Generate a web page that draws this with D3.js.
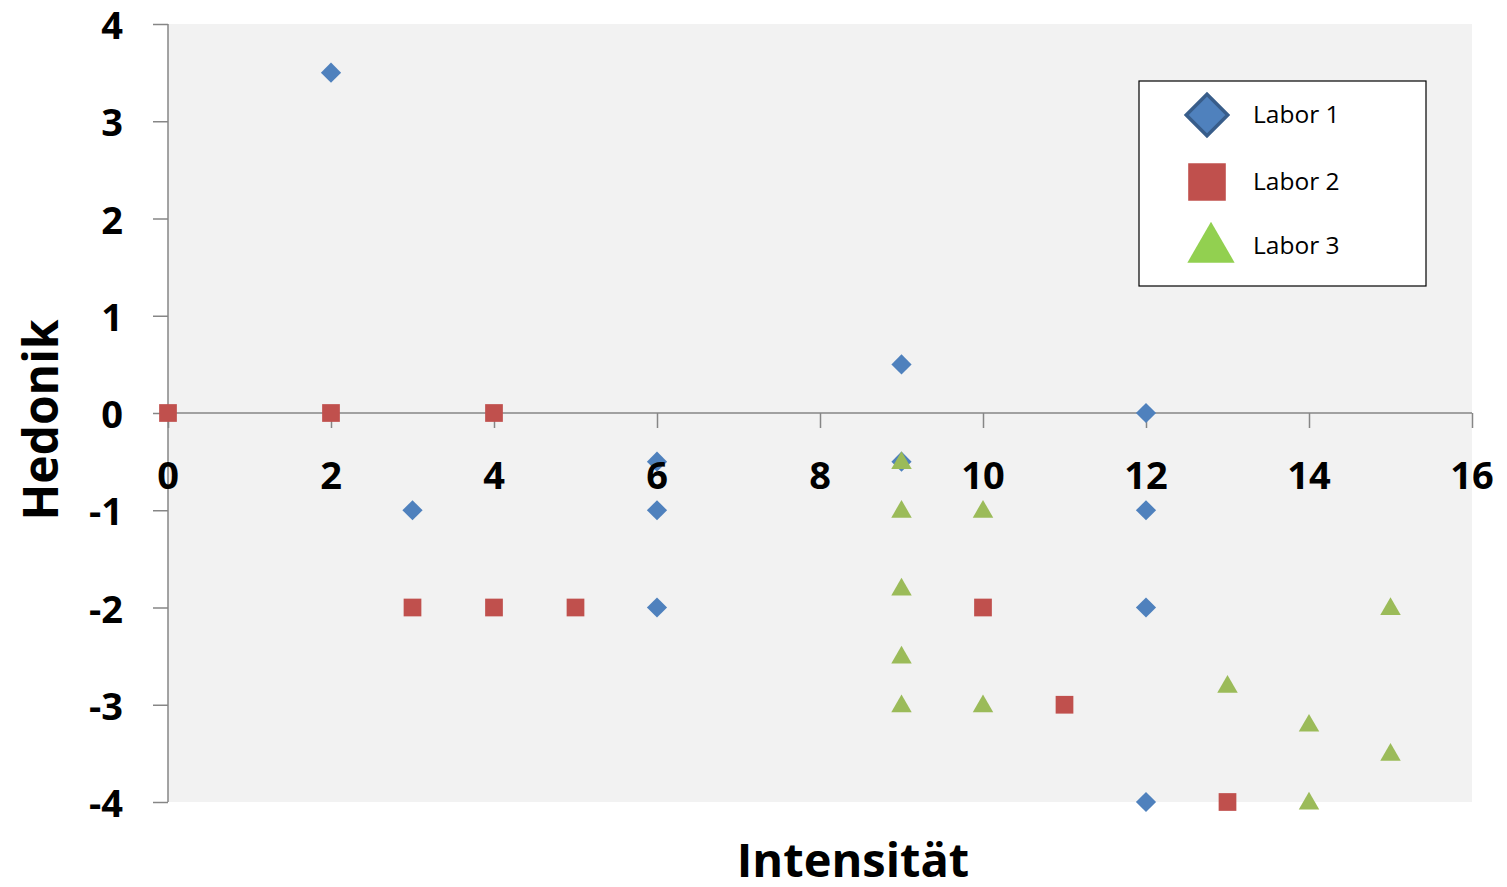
<!DOCTYPE html>
<html><head><meta charset="utf-8">
<script src="https://cdn.jsdelivr.net/npm/d3@7"></script>
<style>html,body{margin:0;padding:0;background:#fff;}</style>
</head><body>
<svg id="c" width="1507" height="887"></svg>
<script>
const seriesNames = ["Labor 1", "Labor 2", "Labor 3"];
const labor1X = [2, 3, 6, 6, 6, 9, 9, 12, 12, 12, 12];
const labor1Y = [3.5, -1, -0.5, -1, -2, 0.5, -0.5, 0, -1, -2, -4];
const labor2X = [0, 2, 4, 3, 4, 5, 10, 11, 13];
const labor2Y = [0, 0, 0, -2, -2, -2, -2, -3, -4];
const labor3X = [9, 9, 10, 9, 9, 9, 10, 13, 14, 14, 15, 15];
const labor3Y = [-0.5, -1, -1, -1.8, -2.5, -3, -3, -2.8, -3.2, -4, -2, -3.5];
const xTicks = [0, 2, 4, 6, 8, 10, 12, 14, 16];
const yTicks = [4, 3, 2, 1, 0, -1, -2, -3, -4];
const xTitle = "Intensität";
const yTitle = "Hedonik";

const svg = d3.select("#c");
const x = d3.scaleLinear().domain([0, 16]).range([168, 1472]);
const y = d3.scaleLinear().domain([-4, 4]).range([802, 24]);
const FONT = "'Open Sans', Lato, sans-serif";

// plot background
svg.append("rect").attr("x", x(0)).attr("y", y(4))
  .attr("width", x(16) - x(0)).attr("height", y(-4) - y(4)).attr("fill", "#f2f2f2");

// y axis
const yAxis = d3.axisLeft(y).tickValues(yTicks).tickSize(15).tickFormat("");
const gy = svg.append("g").attr("transform", `translate(${x(0)},0)`).call(yAxis);
gy.select(".domain").attr("stroke", "#868686").attr("stroke-width", 1.5).attr("d", `M-0,${y(4)}H0V${y(-4)}H-0`);
gy.selectAll(".tick line").attr("stroke", "#868686").attr("stroke-width", 1.5);

// x axis at y=0
const xAxis = d3.axisBottom(x).tickValues(xTicks).tickSize(15).tickFormat("");
const gx = svg.append("g").attr("transform", `translate(0,${y(0)})`).call(xAxis);
gx.select(".domain").attr("stroke", "#868686").attr("stroke-width", 1.5).attr("d", `M${x(0)},0H${x(16)}`);
gx.selectAll(".tick line").attr("stroke", "#868686").attr("stroke-width", 1.5);

const sym = {
  "Labor 1": d3.symbolDiamond2,
  "Labor 2": d3.symbolSquare2,
  "Labor 3": d3.symbolTriangle2
};
const colors = ["#4f81bd", "#c0504d", "#9bbb59"];
const data = [
  labor1X.map((v, i) => [v, labor1Y[i]]),
  labor2X.map((v, i) => [v, labor2Y[i]]),
  labor3X.map((v, i) => [v, labor3Y[i]])
];
const sizes = [260, 400, 300];
data.forEach((pts, si) => {
  svg.append("g").selectAll("path").data(pts).join("path")
    .attr("transform", d => `translate(${x(d[0])},${y(d[1]) + (si === 2 ? 1.5 : 0)})`)
    .attr("d", d3.symbol(sym[seriesNames[si]], sizes[si]))
    .attr("fill", colors[si]);
});

// tick labels
svg.append("g").selectAll("text").data(xTicks).join("text")
  .attr("x", d => x(d)).attr("y", 489)
  .attr("text-anchor", "middle").attr("font-family", FONT).attr("font-weight", "bold")
  .attr("font-size", 38).attr("fill", "#000").text(d => d);
svg.append("g").selectAll("text").data(yTicks).join("text")
  .attr("x", 123).attr("y", d => y(d) + 15)
  .attr("text-anchor", "end").attr("font-family", FONT).attr("font-weight", "bold")
  .attr("font-size", 38).attr("fill", "#000").text(d => d);

// axis titles
svg.append("text").attr("x", 853).attr("y", 877).attr("text-anchor", "middle")
  .attr("font-family", FONT).attr("font-weight", "bold").attr("font-size", 47).text(xTitle);
svg.append("text").attr("transform", "translate(58,420) rotate(-90)").attr("text-anchor", "middle")
  .attr("font-family", FONT).attr("font-weight", "bold").attr("font-size", 48).text(yTitle);

// legend
const lg = svg.append("g");
lg.append("rect").attr("x", 1139).attr("y", 81).attr("width", 287).attr("height", 205)
  .attr("fill", "#fff").attr("stroke", "#000").attr("stroke-width", 1.2);
const legColors = ["#4f81bd", "#c0504d", "#92d050"];
const legY = [115, 182, 246];
seriesNames.forEach((n, i) => {
  const p = lg.append("path")
    .attr("transform", `translate(${i === 2 ? 1211 : 1207},${legY[i] + (i === 2 ? 3 : 0)})`)
    .attr("d", d3.symbol(sym[n], i === 0 ? 1100 : i === 1 ? 1800 : 1600)())
    .attr("fill", legColors[i]);
  if (i === 0) p.attr("stroke", "#385d8a").attr("stroke-width", 3.5);
  lg.append("text").attr("x", 1253).attr("y", legY[i] + 8)
    .attr("font-family", FONT).attr("font-size", 24.5).attr("fill", "#000").text(n);
});
</script>
</body></html>
